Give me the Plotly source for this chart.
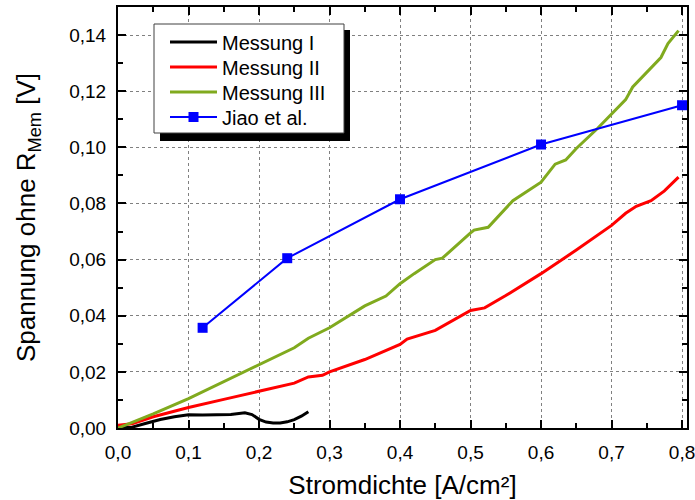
import plotly.graph_objects as go

# Messung I
m1_x = [0.0, 0.02, 0.04, 0.05, 0.06, 0.08, 0.10, 0.12, 0.14, 0.15, 0.16, 0.18, 0.19, 0.20, 0.21, 0.22, 0.23, 0.24, 0.25, 0.26, 0.27]
m1_y = [0.0, 0.0003, 0.0017, 0.0024, 0.003, 0.004, 0.0047, 0.0046, 0.0046, 0.0048, 0.0048, 0.0054, 0.0048, 0.0031, 0.0021, 0.0018, 0.0018, 0.0022, 0.003, 0.0042, 0.0058]

# Messung II
m2_x = [0.0, 0.02, 0.05, 0.10, 0.15, 0.20, 0.25, 0.27, 0.29, 0.30, 0.35, 0.40, 0.41, 0.45, 0.50, 0.52, 0.55, 0.60, 0.65, 0.70, 0.72, 0.735, 0.756, 0.775, 0.795]
m2_y = [0.001, 0.0015, 0.004, 0.0073, 0.0102, 0.013, 0.016, 0.0182, 0.0188, 0.0200, 0.0244, 0.0298, 0.0317, 0.0348, 0.0419, 0.0428, 0.0472, 0.0550, 0.0634, 0.0722, 0.0765, 0.079, 0.081, 0.0845, 0.0894]

# Messung III
m3_x = [0.0, 0.05, 0.10, 0.15, 0.20, 0.25, 0.27, 0.28, 0.30, 0.35, 0.38, 0.40, 0.42, 0.45, 0.46, 0.50, 0.505, 0.525, 0.56, 0.60, 0.62, 0.635, 0.65, 0.68, 0.70, 0.72, 0.73, 0.75, 0.77, 0.78, 0.795]
m3_y = [0.0, 0.005, 0.0105, 0.0165, 0.0226, 0.0286, 0.032, 0.0333, 0.0357, 0.0435, 0.047, 0.0514, 0.055, 0.060, 0.0605, 0.0695, 0.0705, 0.0715, 0.081, 0.0876, 0.094, 0.0955, 0.0996, 0.1067, 0.112, 0.117, 0.1215, 0.1268, 0.132, 0.137, 0.1416]

# Jiao et al.
jiao_x = [0.12, 0.24, 0.40, 0.60, 0.80]
jiao_y = [0.0357, 0.0605, 0.0815, 0.1010, 0.1150]

x_ticks = [0.0, 0.1, 0.2, 0.3, 0.4, 0.5, 0.6, 0.7, 0.8]
y_ticks = [0.00, 0.02, 0.04, 0.06, 0.08, 0.10, 0.12, 0.14]

FONT = "Liberation Sans, Arial, sans-serif"
W, H = 695, 500
ML, MR, MT, MB = 118, 8, 7, 72
PW, PH = W - ML - MR, H - MT - MB

def px2paper(px, py):
    return (px - ML) / PW, 1 - (py - MT) / PH

fig = go.Figure()
fig.add_trace(go.Scatter(x=m1_x, y=m1_y, mode="lines", name="Messung I",
                         line=dict(color="black", width=3), legend="legend"))
fig.add_trace(go.Scatter(x=m2_x, y=m2_y, mode="lines", name="Messung II",
                         line=dict(color="#ff0000", width=3), legend="legend2"))
fig.add_trace(go.Scatter(x=m3_x, y=m3_y, mode="lines", name="Messung III",
                         line=dict(color="#80aa1e", width=3), legend="legend3"))
fig.add_trace(go.Scatter(x=jiao_x, y=jiao_y, mode="lines+markers", name="Jiao et al.",
                         line=dict(color="#0000ff", width=2),
                         marker=dict(symbol="square", size=10, color="#0000ff"), legend="legend4"))

axis_common = dict(
    showline=True, linecolor="black", linewidth=2, mirror="allticks",
    ticks="inside", ticklen=8, tickwidth=2, tickcolor="black",
    showgrid=True, gridcolor="#808080", gridwidth=1, griddash="3px,3px",
    zeroline=False, automargin=False, ticklabeloverflow="allow",
    tickfont=dict(family=FONT, size=19, color="black"),
)

fig.update_xaxes(range=[0, 0.807], tickvals=x_ticks, tickformat=".1f", ticklabelstandoff=6,
                 minor=dict(dtick=0.05, ticks="inside", ticklen=5, tickwidth=2, tickcolor="black", showgrid=False),
                 title=dict(text="Stromdichte [A/cm²]", font=dict(family=FONT, size=26, color="black"), standoff=16),
                 **axis_common)
fig.update_yaxes(range=[0, 0.15], tickvals=y_ticks, tickformat=".2f", ticklabelstandoff=6,
                 minor=dict(dtick=0.01, ticks="inside", ticklen=5, tickwidth=2, tickcolor="black", showgrid=False),
                 title=dict(text="Spannung ohne R<sub>Mem</sub> [V]", font=dict(family=FONT, size=26, color="black"), standoff=26),
                 **axis_common)

# legend frame with shadow
bx0, by0 = px2paper(154, 24)
bx1, by1 = px2paper(344, 133)
sx0, sy0 = px2paper(160, 30)
sx1, sy1 = px2paper(350, 141)
fig.add_shape(type="rect", xref="paper", yref="paper", x0=sx0, y0=sy1, x1=sx1, y1=sy0,
              fillcolor="black", line=dict(width=0), layer="above")
fig.add_shape(type="rect", xref="paper", yref="paper", x0=bx0, y0=by1, x1=bx1, y1=by0,
              fillcolor="white", line=dict(color="#404040", width=1), layer="above")

leg_x, _ = px2paper(165, 0)
item_centers = [42, 67, 92, 117]
legends = {}
for i, cy in enumerate(item_centers):
    _, py = px2paper(0, cy)
    key = "legend" if i == 0 else f"legend{i+1}"
    legends[key] = dict(x=leg_x, y=py, xanchor="left", yanchor="middle",
                        bgcolor="rgba(0,0,0,0)", borderwidth=0, itemwidth=47,
                        font=dict(family=FONT, size=20, color="black"))

fig.update_layout(
    width=W, height=H,
    margin=dict(l=ML, r=MR, t=MT, b=MB),
    paper_bgcolor="white", plot_bgcolor="white",
    separators=",.",
    showlegend=True,
    **legends,
)

fig.write_html("out.html", config={"displayModeBar": False},
               post_script="document.body.style.margin='0';document.body.style.padding='0';document.body.style.overflow='hidden';")
